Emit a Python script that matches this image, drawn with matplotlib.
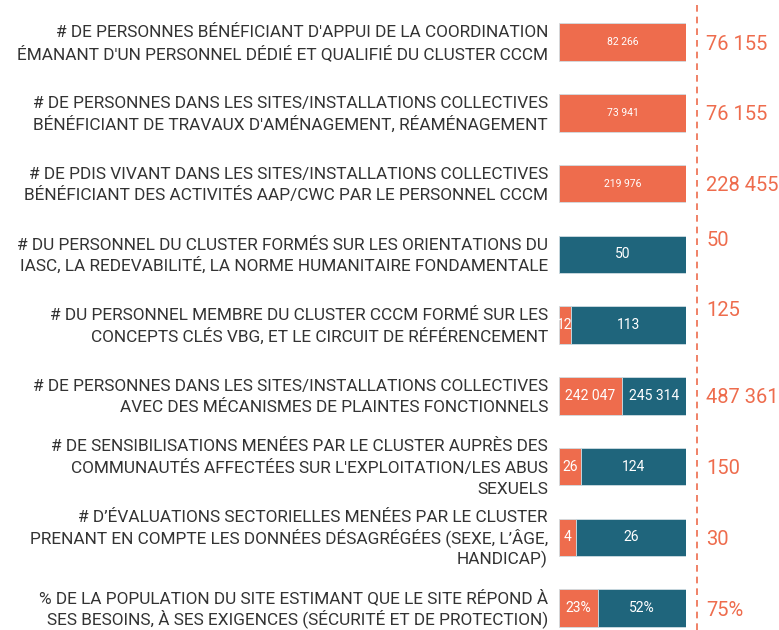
import matplotlib
matplotlib.use("Agg")
import matplotlib.pyplot as plt
import numpy as np

# Data
labels = [
    "# DE PERSONNES BÉNÉFICIANT D'APPUI DE LA COORDINATION\nÉMANANT D'UN PERSONNEL DÉDIÉ ET QUALIFIÉ DU CLUSTER CCCM",
    "# DE PERSONNES DANS LES SITES/INSTALLATIONS COLLECTIVES\nBÉNÉFICIANT DE TRAVAUX D'AMÉNAGEMENT, RÉAMÉNAGEMENT",
    "# DE PDIS VIVANT DANS LES SITES/INSTALLATIONS COLLECTIVES\nBÉNÉFICIANT DES ACTIVITÉS AAP/CWC PAR LE PERSONNEL CCCM",
    "# DU PERSONNEL DU CLUSTER FORMÉS SUR LES ORIENTATIONS DU\nIASC, LA REDEVABILITÉ, LA NORME HUMANITAIRE FONDAMENTALE",
    "# DU PERSONNEL MEMBRE DU CLUSTER CCCM FORMÉ SUR LES\nCONCEPTS CLÉS VBG, ET LE CIRCUIT DE RÉFÉRENCEMENT",
    "# DE PERSONNES DANS LES SITES/INSTALLATIONS COLLECTIVES\nAVEC DES MÉCANISMES DE PLAINTES FONCTIONNELS",
    "# DE SENSIBILISATIONS MENÉES PAR LE CLUSTER AUPRÈS DES\nCOMMUNAUTÉS AFFECTÉES SUR L'EXPLOITATION/LES ABUS\nSEXUELS",
    "# D’ÉVALUATIONS SECTORIELLES MENÉES PAR LE CLUSTER\nPRENANT EN COMPTE LES DONNÉES DÉSAGRÉGÉES (SEXE, L’ÂGE,\nHANDICAP)",
    "% DE LA POPULATION DU SITE ESTIMANT QUE LE SITE RÉPOND À\nSES BESOINS, À SES EXIGENCES (SÉCURITÉ ET DE PROTECTION)",
]
orange_vals = [82266, 73941, 219976, 0, 12, 242047, 26, 4, 23]
teal_vals = [0, 0, 0, 50, 113, 245314, 124, 26, 52]
totals = [76155, 76155, 228455, 50, 125, 487361, 150, 30, 75]
is_percent = [False] * 8 + [True]

ORANGE = "#ee6c4d"
TEAL = "#1f657c"
TEXT = "#333333"
FONT = ["Roboto", "DejaVu Sans"]


def fmt(v, pct):
    s = f"{v:,}".replace(",", " ")
    return s + "%" if pct else s


orange = np.array(orange_vals, dtype=float)
teal = np.array(teal_vals, dtype=float)
sums = orange + teal
o_frac = orange / sums
t_frac = teal / sums
y = np.arange(len(labels))

fig = plt.figure(figsize=(7.79, 6.30), dpi=100)
fig.patch.set_facecolor("white")
ax = fig.add_axes([559 / 779, 0, 127 / 779, 1])
ax.set_xlim(0, 1)
ax.set_ylim(8.311, -0.594)
ax.axis("off")

ax.barh(y, o_frac, height=0.53, color=ORANGE, edgecolor="#cfdde3", linewidth=0.6)
ax.barh(y, t_frac, left=o_frac, height=0.53, color=TEAL, edgecolor="#cfdde3", linewidth=0.6)

line_step = 0.30     # ~21 px between label lines
baseline_off = 0.085  # half cap height, so lines are centred on their caps

for i in y:
    small = i < 3
    fs = 7.5 if small else 10
    if orange[i] > 0:
        ax.text(o_frac[i] / 2, i, fmt(orange_vals[i], is_percent[i]), ha="center", va="center",
                color="white", fontsize=fs, family=FONT)
    if teal[i] > 0:
        ax.text(o_frac[i] + t_frac[i] / 2, i, fmt(teal_vals[i], is_percent[i]), ha="center", va="center",
                color="white", fontsize=fs, family=FONT)
    # category label, one text per line for even spacing
    lines = labels[i].split("\n")
    n = len(lines)
    for k, line in enumerate(lines):
        ly = i + (k - (n - 1) / 2) * line_step + baseline_off
        ax.text(-0.087, ly, line, ha="right", va="baseline", color=TEXT, fontsize=12.4,
                family=FONT, clip_on=False)
    # total
    ty = i - 0.2 if i in (3, 4) else i + 0.03
    ax.text(1.16, ty, fmt(totals[i], is_percent[i]), ha="left", va="center",
            color=ORANGE, fontsize=14.5, family=FONT, clip_on=False)

ax.axvline(1.087, ymin=0, ymax=1, color=ORANGE, linestyle=(0, (4, 3)), linewidth=1.2, clip_on=False)

fig.savefig("out.png", dpi=100)
